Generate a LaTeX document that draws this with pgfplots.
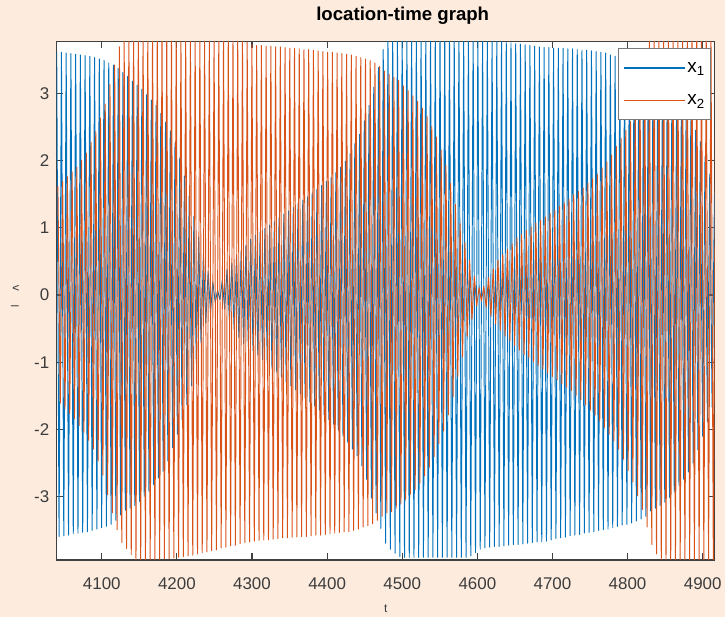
\documentclass[border=0pt]{standalone}
\usepackage{fontspec}
\setmainfont{Liberation Sans}
\newfontfamily\dejavu{DejaVu Sans}
\usepackage{pgfplots}
\pgfplotsset{compat=1.18}
\usepackage{pgfplotstable}
\usetikzlibrary{backgrounds}

\definecolor{mblue}{rgb}{0,0.447,0.741}
\definecolor{mred}{rgb}{0.85,0.325,0.098}
\definecolor{bg}{RGB}{253,235,222}
\definecolor{axgray}{RGB}{64,64,64}
\definecolor{labgray}{RGB}{60,60,60}
\definecolor{leggray}{RGB}{120,120,120}

% x1: peaks and troughs
\pgfplotstableread{
t x
4040.00 3.62
4043.15 -3.59
4046.30 3.61
4049.45 -3.58
4052.60 3.60
4055.75 -3.57
4058.90 3.59
4062.05 -3.55
4065.20 3.58
4068.35 -3.54
4071.50 3.57
4074.65 -3.53
4077.80 3.56
4080.95 -3.52
4084.10 3.55
4087.25 -3.50
4090.40 3.53
4093.55 -3.48
4096.70 3.51
4099.85 -3.46
4103.00 3.49
4106.15 -3.44
4109.30 3.45
4112.45 -3.41
4115.60 3.42
4118.75 -3.35
4121.90 3.37
4125.05 -3.27
4128.20 3.31
4131.35 -3.20
4134.50 3.25
4137.65 -3.17
4140.80 3.18
4143.95 -3.13
4147.10 3.12
4150.25 -3.07
4153.40 3.06
4156.55 -2.99
4159.70 2.98
4162.85 -2.92
4166.00 2.90
4169.15 -2.82
4172.30 2.82
4175.45 -2.72
4178.60 2.70
4181.75 -2.62
4184.90 2.57
4188.05 -2.47
4191.20 2.44
4194.35 -2.27
4197.50 2.26
4200.65 -2.07
4203.80 2.04
4206.95 -1.85
4210.10 1.77
4213.25 -1.63
4216.40 1.47
4219.55 -1.35
4222.70 1.17
4225.85 -1.02
4229.00 0.86
4232.15 -0.71
4235.30 0.60
4238.45 -0.42
4241.60 0.35
4244.75 -0.26
4247.90 0.19
4251.05 -0.11
4254.20 0.07
4257.35 -0.07
4260.50 0.22
4263.65 -0.21
4266.80 0.38
4269.95 -0.37
4273.10 0.47
4276.25 -0.51
4279.40 0.57
4282.55 -0.63
4285.70 0.66
4288.85 -0.72
4292.00 0.74
4295.15 -0.77
4298.30 0.83
4301.45 -0.83
4304.60 0.89
4307.75 -0.89
4310.90 0.94
4314.05 -0.96
4317.20 0.99
4320.35 -1.02
4323.50 1.04
4326.65 -1.09
4329.80 1.09
4332.95 -1.15
4336.10 1.15
4339.25 -1.22
4342.40 1.20
4345.55 -1.29
4348.70 1.25
4351.85 -1.35
4355.00 1.30
4358.15 -1.41
4361.30 1.36
4364.45 -1.47
4367.60 1.41
4370.75 -1.53
4373.90 1.46
4377.05 -1.59
4380.20 1.52
4383.35 -1.65
4386.50 1.57
4389.65 -1.71
4392.80 1.63
4395.95 -1.78
4399.10 1.69
4402.25 -1.85
4405.40 1.75
4408.55 -1.92
4411.70 1.82
4414.85 -2.01
4418.00 1.90
4421.15 -2.10
4424.30 1.99
4427.45 -2.19
4430.60 2.10
4433.75 -2.29
4436.90 2.25
4440.05 -2.39
4443.20 2.39
4446.35 -2.54
4449.50 2.59
4452.65 -2.74
4455.80 2.82
4458.95 -3.02
4462.10 3.09
4465.25 -3.24
4468.40 3.38
4471.55 -3.47
4474.70 3.65
4477.85 -3.69
4481.00 3.88
4484.15 -3.78
4487.30 3.88
4490.45 -3.84
4493.60 3.88
4496.75 -3.89
4499.90 3.88
4503.05 -3.90
4506.20 3.88
4509.35 -3.90
4512.50 3.88
4515.65 -3.90
4518.80 3.88
4521.95 -3.90
4525.10 3.88
4528.25 -3.90
4531.40 3.88
4534.55 -3.90
4537.70 3.88
4540.85 -3.90
4544.00 3.88
4547.15 -3.90
4550.30 3.88
4553.45 -3.90
4556.60 3.88
4559.75 -3.90
4562.90 3.88
4566.05 -3.90
4569.20 3.88
4572.35 -3.90
4575.50 3.88
4578.65 -3.90
4581.80 3.88
4584.95 -3.90
4588.10 3.88
4591.25 -3.88
4594.40 3.88
4597.55 -3.83
4600.70 3.88
4603.85 -3.78
4607.00 3.86
4610.15 -3.76
4613.30 3.84
4616.45 -3.75
4619.60 3.82
4622.75 -3.74
4625.90 3.80
4629.05 -3.74
4632.20 3.78
4635.35 -3.73
4638.50 3.76
4641.65 -3.72
4644.80 3.75
4647.95 -3.71
4651.10 3.74
4654.25 -3.71
4657.40 3.73
4660.55 -3.70
4663.70 3.72
4666.85 -3.69
4670.00 3.71
4673.15 -3.68
4676.30 3.70
4679.45 -3.67
4682.60 3.69
4685.75 -3.67
4688.90 3.68
4692.05 -3.66
4695.20 3.68
4698.35 -3.64
4701.50 3.67
4704.65 -3.62
4707.80 3.67
4710.95 -3.61
4714.10 3.67
4717.25 -3.60
4720.40 3.66
4723.55 -3.58
4726.70 3.66
4729.85 -3.57
4733.00 3.65
4736.15 -3.56
4739.30 3.64
4742.45 -3.54
4745.60 3.64
4748.75 -3.53
4751.90 3.63
4755.05 -3.52
4758.20 3.62
4761.35 -3.50
4764.50 3.61
4767.65 -3.49
4770.80 3.60
4773.95 -3.48
4777.10 3.57
4780.25 -3.46
4783.40 3.55
4786.55 -3.44
4789.70 3.53
4792.85 -3.42
4796.00 3.51
4799.15 -3.41
4802.30 3.49
4805.45 -3.39
4808.60 3.46
4811.75 -3.36
4814.90 3.42
4818.05 -3.33
4821.20 3.38
4824.35 -3.29
4827.50 3.32
4830.65 -3.21
4833.80 3.25
4836.95 -3.17
4840.10 3.19
4843.25 -3.13
4846.40 3.13
4849.55 -3.08
4852.70 3.06
4855.85 -3.01
4859.00 2.99
4862.15 -2.93
4865.30 2.91
4868.45 -2.83
4871.60 2.83
4874.75 -2.74
4877.90 2.72
4881.05 -2.63
4884.20 2.59
4887.35 -2.50
4890.50 2.45
4893.65 -2.30
4896.80 2.28
4899.95 -2.10
4903.10 2.06
4906.25 -1.88
4909.40 1.80
4912.55 -1.67
4915.70 1.51
}\xone

% x2: peaks and troughs
\pgfplotstableread{
t x
4041.60 1.62
4044.75 -1.61
4047.90 1.69
4051.05 -1.69
4054.20 1.76
4057.35 -1.76
4060.50 1.83
4063.65 -1.84
4066.80 1.90
4069.95 -1.94
4073.10 2.00
4076.25 -2.04
4079.40 2.11
4082.55 -2.16
4085.70 2.27
4088.85 -2.29
4092.00 2.43
4095.15 -2.47
4098.30 2.63
4101.45 -2.68
4104.60 2.84
4107.75 -2.97
4110.90 3.13
4114.05 -3.24
4117.20 3.42
4120.35 -3.49
4123.50 3.69
4126.65 -3.68
4129.80 3.85
4132.95 -3.77
4136.10 3.92
4139.25 -3.86
4142.40 3.92
4145.55 -3.94
4148.70 3.92
4151.85 -3.94
4155.00 3.91
4158.15 -3.94
4161.30 3.91
4164.45 -3.94
4167.60 3.91
4170.75 -3.94
4173.90 3.90
4177.05 -3.93
4180.20 3.89
4183.35 -3.92
4186.50 3.89
4189.65 -3.92
4192.80 3.88
4195.95 -3.91
4199.10 3.88
4202.25 -3.90
4205.40 3.87
4208.55 -3.89
4211.70 3.87
4214.85 -3.88
4218.00 3.86
4221.15 -3.87
4224.30 3.85
4227.45 -3.85
4230.60 3.85
4233.75 -3.83
4236.90 3.84
4240.05 -3.82
4243.20 3.84
4246.35 -3.80
4249.50 3.83
4252.65 -3.79
4255.80 3.83
4258.95 -3.76
4262.10 3.82
4265.25 -3.75
4268.40 3.81
4271.55 -3.73
4274.70 3.80
4277.85 -3.72
4281.00 3.79
4284.15 -3.70
4287.30 3.79
4290.45 -3.68
4293.60 3.76
4296.75 -3.67
4299.90 3.72
4303.05 -3.66
4306.20 3.71
4309.35 -3.65
4312.50 3.71
4315.65 -3.64
4318.80 3.70
4321.95 -3.64
4325.10 3.70
4328.25 -3.63
4331.40 3.69
4334.55 -3.62
4337.70 3.69
4340.85 -3.61
4344.00 3.68
4347.15 -3.61
4350.30 3.67
4353.45 -3.60
4356.60 3.67
4359.75 -3.60
4362.90 3.66
4366.05 -3.59
4369.20 3.65
4372.35 -3.59
4375.50 3.65
4378.65 -3.58
4381.80 3.64
4384.95 -3.57
4388.10 3.63
4391.25 -3.57
4394.40 3.62
4397.55 -3.56
4400.70 3.61
4403.85 -3.55
4407.00 3.61
4410.15 -3.54
4413.30 3.60
4416.45 -3.53
4419.60 3.59
4422.75 -3.52
4425.90 3.58
4429.05 -3.52
4432.20 3.57
4435.35 -3.50
4438.50 3.55
4441.65 -3.48
4444.80 3.53
4447.95 -3.45
4451.10 3.51
4454.25 -3.43
4457.40 3.49
4460.55 -3.40
4463.70 3.45
4466.85 -3.35
4470.00 3.40
4473.15 -3.29
4476.30 3.33
4479.45 -3.24
4482.60 3.28
4485.75 -3.22
4488.90 3.24
4492.05 -3.17
4495.20 3.19
4498.35 -3.10
4501.50 3.11
4504.65 -3.04
4507.80 3.04
4510.95 -2.96
4514.10 2.96
4517.25 -2.89
4520.40 2.88
4523.55 -2.80
4526.70 2.78
4529.85 -2.69
4533.00 2.66
4536.15 -2.56
4539.30 2.51
4542.45 -2.40
4545.60 2.35
4548.75 -2.21
4551.90 2.15
4555.05 -2.02
4558.20 1.93
4561.35 -1.78
4564.50 1.66
4567.65 -1.51
4570.80 1.35
4573.95 -1.21
4577.10 1.06
4580.25 -0.92
4583.40 0.78
4586.55 -0.62
4589.70 0.52
4592.85 -0.36
4596.00 0.28
4599.15 -0.16
4602.30 0.11
4605.45 -0.09
4608.60 0.13
4611.75 -0.18
4614.90 0.26
4618.05 -0.31
4621.20 0.39
4624.35 -0.43
4627.50 0.52
4630.65 -0.52
4633.80 0.60
4636.95 -0.61
4640.10 0.68
4643.25 -0.68
4646.40 0.76
4649.55 -0.75
4652.70 0.85
4655.85 -0.82
4659.00 0.90
4662.15 -0.89
4665.30 0.96
4668.45 -0.94
4671.60 1.01
4674.75 -0.99
4677.90 1.07
4681.05 -1.05
4684.20 1.11
4687.35 -1.10
4690.50 1.16
4693.65 -1.16
4696.80 1.21
4699.95 -1.21
4703.10 1.26
4706.25 -1.26
4709.40 1.32
4712.55 -1.32
4715.70 1.37
4718.85 -1.37
4722.00 1.43
4725.15 -1.42
4728.30 1.49
4731.45 -1.49
4734.60 1.54
4737.75 -1.56
4740.90 1.59
4744.05 -1.63
4747.20 1.66
4750.35 -1.71
4753.50 1.73
4756.65 -1.79
4759.80 1.79
4762.95 -1.88
4766.10 1.89
4769.25 -1.97
4772.40 1.98
4775.55 -2.07
4778.70 2.08
4781.85 -2.17
4785.00 2.21
4788.15 -2.29
4791.30 2.33
4794.45 -2.44
4797.60 2.45
4800.75 -2.61
4803.90 2.58
4807.05 -2.78
4810.20 2.91
4813.35 -2.98
4816.50 3.28
4819.65 -3.19
4822.80 3.63
4825.95 -3.45
4829.10 3.84
4832.25 -3.71
4835.40 3.92
4838.55 -3.85
4841.70 3.92
4844.85 -3.94
4848.00 3.92
4851.15 -3.94
4854.30 3.92
4857.45 -3.94
4860.60 3.92
4863.75 -3.94
4866.90 3.92
4870.05 -3.94
4873.20 3.92
4876.35 -3.94
4879.50 3.92
4882.65 -3.94
4885.80 3.92
4888.95 -3.94
4892.10 3.92
4895.25 -3.94
4898.40 3.92
4901.55 -3.94
4904.70 3.92
4907.85 -3.94
4911.00 3.92
4914.15 -3.94
4917.30 3.92
}\xtwo

\begin{document}
\begin{tikzpicture}
\begin{axis}[
  name=ax,
  scale only axis,
  width=658bp, height=518.5bp,
  xmin=4040, xmax=4916, ymin=-3.94, ymax=3.77,
  xtick={4100,4200,...,4900},
  ytick={-3,-2,...,3},
  tick align=inside, tick pos=both,
  major tick length=6.5bp,
  /pgf/number format/assume math mode=true,
  /pgf/number format/1000 sep={},
  ticklabel style={font=\fontsize{17}{20}\selectfont, text=labgray},
  xticklabel style={yshift=-14bp},
  yticklabel style={xshift=-4bp},
  axis line style={draw=axgray, line width=1.1bp},
  every tick/.style={draw=axgray, line width=1.1bp},
  axis background/.style={fill=white},
  title={location-time graph},
  title style={at={(rel axis cs:0.5,1.0376)}, anchor=center, xshift=17bp,
    font=\bfseries\fontsize{18.7}{22}\selectfont, text=black},
  xlabel={t},
  every axis x label/.style={at={(rel axis cs:0.5,-0.094)}, anchor=center,
    font=\fontsize{12}{14}\selectfont, text=labgray},
  ylabel={l\hspace{14bp}{\dejavu ʌ}},
  every axis y label/.style={at={(rel axis cs:-0.0634,0.509)}, anchor=center, rotate=90,
    font=\fontsize{11}{13}\selectfont, text=labgray},
  legend style={at={(rel axis cs:1,1)}, anchor=north east, xshift=-3.7bp, yshift=-7bp,
    draw=leggray, line width=0.8bp, fill=white,
    font=\fontsize{19}{22}\selectfont, inner xsep=4bp, inner ysep=11.5bp, row sep=17bp},
  legend cell align=left,
]
\addlegendimage{legend image code/.code={\draw[draw=mblue, line width=1.4bp] (0bp,0bp) -- (61bp,0bp);}}
\addlegendentry{x\textsubscript{1}}
\addlegendimage{legend image code/.code={\draw[draw=mred, line width=1.4bp] (0bp,0bp) -- (61bp,0bp);}}
\addlegendentry{x\textsubscript{2}}
\addplot[forget plot, mblue, line width=0.95bp, line join=round] table[x=t, y=x] {\xone};
\addplot[forget plot, mred, line width=0.95bp, line join=round] table[x=t, y=x] {\xtwo};
\end{axis}
\begin{scope}[on background layer]
\fill[bg] ([xshift=-56.7bp,yshift=-57bp]ax.south west) rectangle ([xshift=10.3bp,yshift=41.5bp]ax.north east);
\end{scope}
\end{tikzpicture}
\end{document}
